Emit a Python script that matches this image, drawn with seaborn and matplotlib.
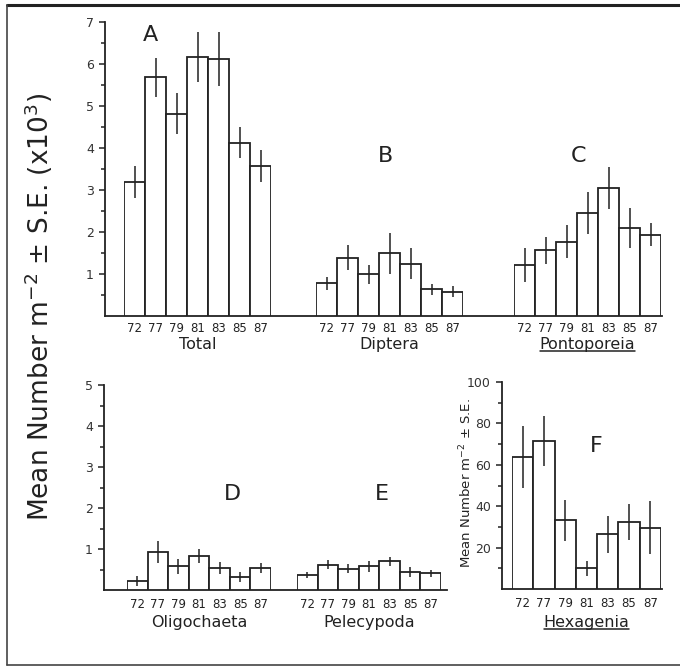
import matplotlib
matplotlib.use("Agg")
import matplotlib.pyplot as plt
import seaborn as sns
import numpy as np
import pandas as pd
from matplotlib.lines import Line2D

sns.set_theme(style="white")
plt.rcParams['font.family'] = ['DejaVu Sans']

years = ["72", "77", "79", "81", "83", "85", "87"]

total_mean = [3.19, 5.68, 4.82, 6.17, 6.12, 4.13, 3.57]
total_se = [0.38, 0.47, 0.49, 0.60, 0.65, 0.36, 0.38]
diptera_mean = [0.78, 1.39, 0.99, 1.49, 1.24, 0.64, 0.58]
diptera_se = [0.16, 0.29, 0.22, 0.48, 0.37, 0.13, 0.13]
pontoporeia_mean = [1.22, 1.56, 1.77, 2.46, 3.05, 2.10, 1.94]
pontoporeia_se = [0.40, 0.33, 0.39, 0.50, 0.50, 0.47, 0.27]
oligochaeta_mean = [0.22, 0.92, 0.58, 0.84, 0.54, 0.32, 0.53]
oligochaeta_se = [0.12, 0.27, 0.18, 0.17, 0.15, 0.12, 0.12]
pelecypoda_mean = [0.37, 0.62, 0.52, 0.58, 0.70, 0.44, 0.41]
pelecypoda_se = [0.07, 0.11, 0.11, 0.13, 0.11, 0.13, 0.09]
hexagenia_mean = [63.6, 71.6, 33.2, 10.0, 26.5, 32.4, 29.7]
hexagenia_se = [15.0, 12.0, 10.0, 3.5, 9.0, 8.5, 13.0]

W, H = 680, 666
fig = plt.figure(figsize=(W / 100, H / 100), dpi=100)
fig.patch.set_facecolor("white")


def px_axes(x0, y_top, x1, y_bot, **kw):
    return fig.add_axes([x0 / W, 1 - y_bot / H, (x1 - x0) / W, (y_bot - y_top) / H], **kw)


def frame_axes(x0, y_top, x1, y_bot, ymax, major, minor, labels):
    ax = px_axes(x0, y_top, x1, y_bot)
    ax.set_facecolor("none")
    ax.set_xlim(0, 1)
    ax.set_ylim(0, ymax)
    for s in ["top", "right"]:
        ax.spines[s].set_visible(False)
    for s in ["left", "bottom"]:
        ax.spines[s].set_color("#222222")
        ax.spines[s].set_linewidth(1.3)
    ax.set_xticks([])
    ax.set_yticks(major)
    ax.set_yticklabels(labels, fontsize=9, color="#333333")
    ax.set_yticks(minor, minor=True)
    ax.tick_params(axis="y", which="major", direction="out", length=4, width=1.1,
                   color="#222222", pad=4, left=True)
    ax.tick_params(axis="y", which="minor", direction="out", length=3, width=1.1,
                   color="#222222", left=True)
    return ax


def panel(x0, y_top, x1, y_bot, ymax, means, ses, name, tick_pad, label_pad):
    ax = px_axes(x0, y_top, x1, y_bot)
    df = pd.DataFrame({"year": years, "value": means})
    sns.barplot(data=df, x="year", y="value", order=years, ax=ax, color="white",
                edgecolor="#222222", linewidth=1.3, width=1.0, errorbar=None)
    ax.errorbar(np.arange(len(years)), means, yerr=ses, fmt="none",
                ecolor="#222222", elinewidth=1.1, capsize=0)
    ax.set_xlim(-0.5, len(years) - 0.5)
    ax.set_ylim(0, ymax)
    ax.set_facecolor("none")
    for s in ax.spines.values():
        s.set_visible(False)
    ax.set_yticks([])
    ax.set_ylabel("")
    ax.set_xlabel(name, fontsize=11.5, color="#222222", labelpad=label_pad)
    ax.tick_params(axis="x", length=0, labelsize=8.5, pad=tick_pad, colors="#222222")
    return ax


# ---- Top row (0..7) ----
top_major = [1, 2, 3, 4, 5, 6, 7]
top_minor = [0.5, 1.5, 2.5, 3.5, 4.5, 5.5, 6.5]
axT = frame_axes(105, 22, 662, 316, 7, top_major, top_minor, [str(v) for v in top_major])
axT.set_ylabel(r"Mean Number m$^{-2}$ ± S.E. (x10$^{3}$)", fontsize=19, color="#222222")
axT.yaxis.set_label_coords(-0.09, 0.03, transform=axT.transAxes)

axA = panel(124, 22, 271, 316, 7, total_mean, total_se, "Total", 4, 2)
axB = panel(316, 22, 463, 316, 7, diptera_mean, diptera_se, "Diptera", 4, 2)
axC = panel(514, 22, 661, 316, 7, pontoporeia_mean, pontoporeia_se, "Pontoporeia", 4, 2)

# ---- Bottom-left (0..5) ----
bl_major = [1, 2, 3, 4, 5]
bl_minor = [0.5, 1.5, 2.5, 3.5, 4.5]
axBL = frame_axes(104, 385, 447, 590, 5, bl_major, bl_minor, [str(v) for v in bl_major])
axD = panel(127, 385, 271, 590, 5, oligochaeta_mean, oligochaeta_se, "Oligochaeta", 6, 3)
axE = panel(297, 385, 441, 590, 5, pelecypoda_mean, pelecypoda_se, "Pelecypoda", 6, 3)

# ---- F (0..100) ----
f_major = [20, 40, 60, 80, 100]
f_minor = [10, 30, 50, 70, 90]
axFF = frame_axes(502, 382, 662, 589, 100, f_major, f_minor, [str(v) for v in f_major])
axFF.set_ylabel(r"Mean Number m$^{-2}$ ± S.E.", fontsize=9.5, color="#222222")
axFF.yaxis.set_label_coords(-0.17, 0.51, transform=axFF.transAxes)
axF = panel(512, 382, 661, 589, 100, hexagenia_mean, hexagenia_se, "Hexagenia", 6, 3)

# ---- Panel letters ----
for letter, x, y in [("A", 150, 35), ("B", 385, 156), ("C", 578, 156),
                     ("D", 232, 494), ("E", 382, 494), ("F", 596, 446)]:
    fig.text(x / W, 1 - y / H, letter, fontsize=16, color="#222222",
             ha="center", va="center")

# ---- Underlines for genus names ----
fig.canvas.draw()
renderer = fig.canvas.get_renderer()
for ax in (axC, axF):
    bb = ax.xaxis.label.get_window_extent(renderer)
    yline = (bb.y0 + 1) / H
    fig.add_artist(Line2D([bb.x0 / W, bb.x1 / W], [yline, yline], color="#222222",
                          lw=1.1, transform=fig.transFigure))

# ---- Outer frame ----
fig.add_artist(Line2D([7 / W, 1.0], [1 - 5 / H, 1 - 5 / H], color="#222222", lw=2.2,
                      transform=fig.transFigure))
fig.add_artist(Line2D([7 / W, 7 / W], [1 - 5 / H, 1 - 665 / H], color="#444444", lw=1.2,
                      transform=fig.transFigure))
fig.add_artist(Line2D([7 / W, 1.0], [1 - 665 / H, 1 - 665 / H], color="#444444", lw=1.2,
                      transform=fig.transFigure))

fig.savefig("out.png", dpi=100, facecolor="white")
